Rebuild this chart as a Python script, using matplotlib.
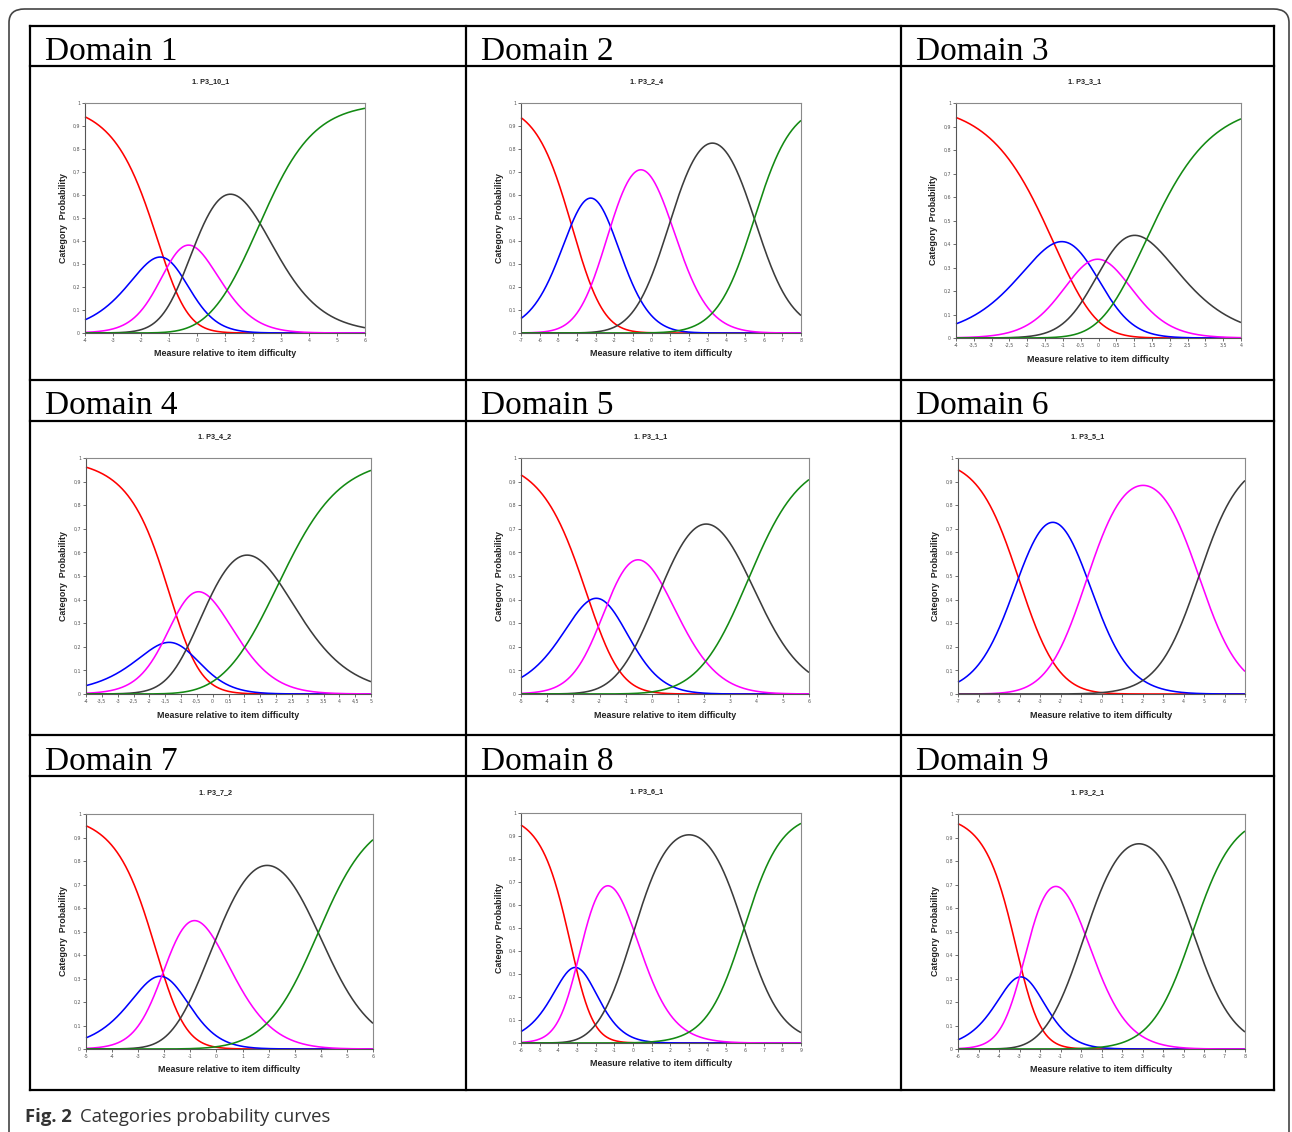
import numpy as np
import matplotlib
matplotlib.use("Agg")
import matplotlib.pyplot as plt
from matplotlib.patches import FancyBboxPatch
from matplotlib.lines import Line2D
from matplotlib.ticker import FuncFormatter, MultipleLocator

# ---------------- data ----------------
domain_names = ["Domain 1", "Domain 2", "Domain 3",
                "Domain 4", "Domain 5", "Domain 6",
                "Domain 7", "Domain 8", "Domain 9"]
item_labels = ["1. P3_10_1", "1. P3_2_4", "1. P3_3_1",
               "1. P3_4_2", "1. P3_1_1", "1. P3_5_1",
               "1. P3_7_2", "1. P3_6_1", "1. P3_2_1"]
x_min = [-4, -7, -4, -4, -5, -7, -5, -6, -6]
x_max = [6, 8, 4, 5, 6, 7, 6, 9, 8]
x_tick_step = [1, 1, 0.5, 0.5, 1, 1, 1, 1, 1]
y_ticks = [0, 0.1, 0.2, 0.3, 0.4, 0.5, 0.6, 0.7, 0.8, 0.9, 1]

# Category thresholds = x positions where adjacent category curves cross
thr_domain1 = [-1.2, -0.95, -0.1, 2.25]
thr_domain2 = [-4.3, -2.2, 1.0, 5.5]
thr_domain3 = [-1.25, -0.3, 0.2, 1.35]
thr_domain4 = [-0.7, -1.6, -0.08, 2.1]
thr_domain5 = [-2.4, -1.7, 0.4, 3.7]
thr_domain6 = [-4.05, -0.7, 4.75]
thr_domain7 = [-2.0, -2.1, -0.05, 3.9]
thr_domain8 = [-3.05, -3.05, 0.05, 5.95]
thr_domain9 = [-2.8, -3.0, 0.2, 5.45]
thresholds = [thr_domain1, thr_domain2, thr_domain3, thr_domain4, thr_domain5,
              thr_domain6, thr_domain7, thr_domain8, thr_domain9]

category_colors = ["#ff0000", "#0000ff", "#ff00ff", "#3c3c3c", "#138a13"]

# ---------------- layout (pixels) ----------------
W, H = 1292, 1132
fig = plt.figure(figsize=(W / 100, H / 100), dpi=100)

def fx(px):
    return px / W

def fy(py):
    return 1 - py / H

axes_boxes = [(85, 103, 365, 333), (521, 103, 801, 333), (956, 103, 1241, 338),
              (86, 458, 371, 694), (521, 458, 809, 694), (958, 458, 1245, 694),
              (86, 814, 373, 1049), (521, 813, 801, 1043), (958, 814, 1245, 1049)]

col_lines = [30, 466, 901, 1274]
row_lines = [26, 66, 380, 421, 735, 776, 1090]
header_baselines = [59.5, 414.5, 769.5]

# outer rounded frame
frame = FancyBboxPatch((fx(9), fy(1160)), fx(1289) - fx(9), fy(9) - fy(1160),
                       boxstyle="round,pad=0,rounding_size=0.012",
                       transform=fig.transFigure, fill=False,
                       edgecolor="#444444", linewidth=1.2, clip_on=False)
fig.patches.append(frame)

# table grid
for xc in col_lines:
    fig.add_artist(Line2D([fx(xc), fx(xc)], [fy(row_lines[0]), fy(row_lines[-1])],
                          transform=fig.transFigure, color="black", lw=1.6))
for yr in row_lines:
    fig.add_artist(Line2D([fx(col_lines[0]), fx(col_lines[-1])], [fy(yr), fy(yr)],
                          transform=fig.transFigure, color="black", lw=1.6))

def tick_fmt(v, pos):
    s = ("%g" % round(v, 6)).replace(".", ",")
    return s

def category_probs(theta, thr):
    thr = np.asarray(thr)
    cum = np.concatenate([[0.0], np.cumsum(thr)])
    k = np.arange(len(thr) + 1)
    logits = np.outer(theta, k) - cum[None, :]
    logits -= logits.max(axis=1, keepdims=True)
    e = np.exp(logits)
    return e / e.sum(axis=1, keepdims=True)

for i in range(9):
    r, c = divmod(i, 3)
    # header
    fig.text(fx(col_lines[c] + 15), fy(header_baselines[r]), domain_names[i],
             family="Liberation Serif", fontsize=24, va="baseline", ha="left")

    x0, y0, x1, y1 = axes_boxes[i]
    ax = fig.add_axes([fx(x0), fy(y1), fx(x1) - fx(x0), fy(y0) - fy(y1)])
    theta = np.linspace(x_min[i], x_max[i], 600)
    P = category_probs(theta, thresholds[i])
    for k in range(P.shape[1]):
        ax.plot(theta, P[:, k], color=category_colors[k], lw=1.15, clip_on=False,
                solid_capstyle="butt")
    ax.set_xlim(x_min[i], x_max[i])
    ax.set_ylim(0, 1)
    ax.xaxis.set_major_locator(MultipleLocator(x_tick_step[i]))
    ax.set_yticks(y_ticks)
    ax.xaxis.set_major_formatter(FuncFormatter(tick_fmt))
    ax.yaxis.set_major_formatter(FuncFormatter(tick_fmt))
    ax.tick_params(axis="both", direction="out", length=2, width=0.6,
                   color="#555555", labelsize=3.4, labelcolor="#555555", pad=1.5)
    for sp in ax.spines.values():
        sp.set_color("#8a8a8a")
        sp.set_linewidth(0.8)
    ax.spines["bottom"].set_color("#555555")
    ax.spines["left"].set_color("#555555")

    cx = (x0 + x1) / 2
    fig.text(fx(cx - 14), fy(y0 - 21), item_labels[i], family="Liberation Sans",
             fontsize=5.2, fontweight="bold", ha="center", va="center", color="#222222")
    fig.text(fx(cx), fy(y1 + 21), "Measure relative to item difficulty",
             family="Liberation Sans", fontsize=6.4, fontweight="bold",
             ha="center", va="center", color="#222222")
    fig.text(fx(x0 - 22), fy((y0 + y1) / 2), "Category  Probability",
             family="Liberation Sans", fontsize=6.4, fontweight="bold",
             ha="center", va="center", rotation=90, color="#222222")

# caption
fig.text(fx(25), fy(1122), "Fig. 2", family="Open Sans", fontweight="bold",
         fontsize=13.3, ha="left", va="baseline", color="#333333")
fig.text(fx(80), fy(1122), "Categories probability curves", family="Open Sans",
         fontsize=13.3, ha="left", va="baseline", color="#333333")

fig.savefig("out.png", dpi=100, facecolor="white")
